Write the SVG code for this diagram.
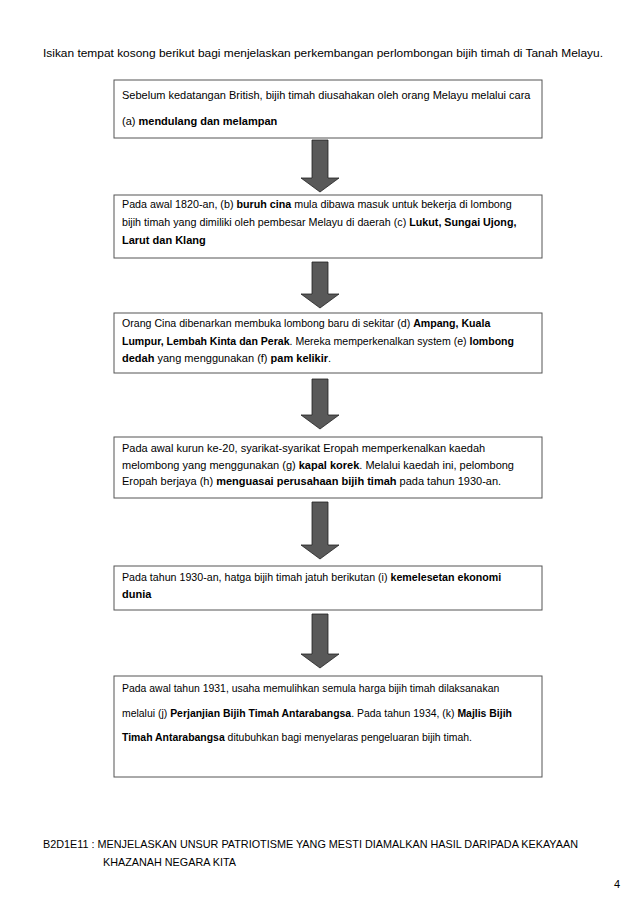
<svg xmlns="http://www.w3.org/2000/svg" width="638" height="903" viewBox="0 0 638 903">
<style>
text{font-family:"Liberation Sans",Arial,sans-serif;font-size:11px;fill:#000}
.b{font-weight:bold}
.box{fill:#fff;stroke:#555;stroke-width:1}
.arrow{fill:#595959;stroke:#222;stroke-width:0.8}
</style>
<rect width="638" height="903" fill="#fff"/>
<text x="43" y="57" textLength="560" lengthAdjust="spacingAndGlyphs">Isikan tempat kosong berikut bagi menjelaskan perkembangan perlombongan bijih timah di Tanah Melayu.</text>

<g id="connectors">
<polygon class="arrow" points="312,140 328,140 328,178 339,178 320,192 301,178 312,178"/>
<polygon class="arrow" points="312,262 328,262 328,294 339,294 320,308 301,294 312,294"/>
<polygon class="arrow" points="312,379 328,379 328,415 339,415 320,429 301,415 312,415"/>
<polygon class="arrow" points="312,502 328,502 328,545 339,545 320,559 301,545 312,545"/>
<polygon class="arrow" points="312,614 328,614 328,654 339,654 320,668 301,654 312,654"/>
</g>

<g id="n1">
<rect class="box" x="114" y="80" width="428" height="58"/>
<text x="122" y="99">Sebelum kedatangan British, bijih timah diusahakan oleh orang Melayu melalui cara</text>
<text x="122" y="125">(a) <tspan class="b">mendulang dan  melampan</tspan></text>
</g>

<g id="n2">
<rect class="box" x="114" y="195" width="428" height="63"/>
<text x="122" y="208" transform="matrix(0.975,0,0,1,3.05,0)">Pada awal 1820-an, (b) <tspan class="b">buruh cina</tspan> mula dibawa masuk untuk bekerja di lombong</text>
<text x="122" y="226" transform="matrix(0.975,0,0,1,3.05,0)">bijih timah yang dimiliki oleh pembesar Melayu di daerah (c) <tspan class="b">Lukut, Sungai Ujong,</tspan></text>
<text x="122" y="244" class="b">Larut dan Klang</text>
</g>

<g id="n3">
<rect class="box" x="114" y="313" width="428" height="60"/>
<text x="122" y="327" transform="matrix(0.965,0,0,1,4.27,0)">Orang Cina dibenarkan membuka lombong baru di sekitar (d) <tspan class="b">Ampang, Kuala</tspan></text>
<text x="122" y="345" transform="matrix(0.96,0,0,1,4.88,0)"><tspan class="b">Lumpur, Lembah Kinta dan Perak</tspan>. Mereka memperkenalkan system (e) <tspan class="b">lombong</tspan></text>
<text x="122" y="362"><tspan class="b">dedah</tspan>  yang menggunakan (f) <tspan class="b">pam kelikir</tspan>.</text>
</g>

<g id="n4">
<rect class="box" x="114" y="437" width="428" height="61"/>
<text x="122" y="452">Pada awal kurun ke-20, syarikat-syarikat Eropah memperkenalkan kaedah</text>
<text x="122" y="469">melombong yang menggunakan (g) <tspan class="b">kapal korek</tspan>.  Melalui kaedah ini, pelombong</text>
<text x="122" y="485">Eropah berjaya (h) <tspan class="b">menguasai perusahaan bijih timah</tspan>  pada tahun 1930-an.</text>
</g>

<g id="n5">
<rect class="box" x="114" y="566" width="428" height="44"/>
<text x="122" y="581" transform="matrix(0.97,0,0,1,3.66,0)">Pada tahun 1930-an, hatga bijih timah jatuh berikutan (i) <tspan class="b">kemelesetan ekonomi</tspan></text>
<text x="122" y="598" class="b">dunia</text>
</g>

<g id="n6">
<rect class="box" x="114" y="676" width="428" height="101"/>
<g transform="matrix(0.95,0,0,1,6.1,0)">
<text x="122" y="692">Pada awal tahun 1931, usaha memulihkan semula harga bijih timah dilaksanakan</text>
<text x="122" y="717">melalui (j) <tspan class="b">Perjanjian Bijih Timah Antarabangsa</tspan>. Pada tahun 1934, (k) <tspan class="b">Majlis Bijih</tspan></text>
<text x="122" y="741"><tspan class="b">Timah Antarabangsa</tspan> ditubuhkan bagi menyelaras pengeluaran bijih timah.</text>
</g>
</g>

<text x="43" y="848" textLength="535" lengthAdjust="spacingAndGlyphs">B2D1E11 : MENJELASKAN UNSUR PATRIOTISME YANG MESTI DIAMALKAN HASIL DARIPADA KEKAYAAN</text>
<text x="103" y="866" textLength="133" lengthAdjust="spacingAndGlyphs">KHAZANAH NEGARA KITA</text>
<text x="614" y="888">4</text>
</svg>
